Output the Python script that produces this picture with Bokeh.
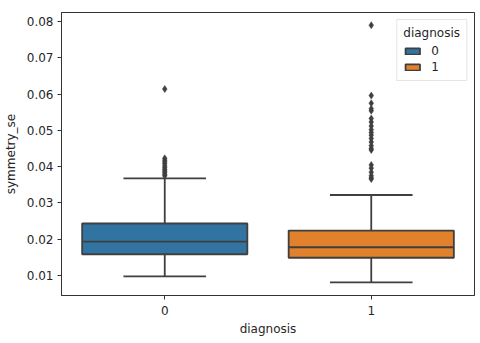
from bokeh.plotting import figure
from bokeh.models import ColumnDataSource, Range1d, FixedTicker, PrintfTickFormatter
from bokeh.embed import file_html
from bokeh.resources import INLINE

categories = ["0", "1"]
q1 = [0.01587, 0.01490]
median = [0.01935, 0.01780]
q3 = [0.02435, 0.02240]
whisker_lo = [0.00975, 0.00810]
whisker_hi = [0.03680, 0.03220]
colors = ["#3274a1", "#e1812c"]

outliers_0 = [0.0375, 0.0379, 0.0384, 0.0388, 0.0392, 0.0397, 0.0402, 0.0408,
              0.0413, 0.0418, 0.0423, 0.0614]
outliers_1 = [0.0366, 0.0369, 0.0375, 0.0385, 0.0396, 0.0405, 0.0446, 0.0450,
              0.0458, 0.0468, 0.0478, 0.0487, 0.0494, 0.0502, 0.0512, 0.0523,
              0.0533, 0.0554, 0.0560, 0.0575, 0.0596, 0.0790]

y_ticks = [0.01, 0.02, 0.03, 0.04, 0.05, 0.06, 0.07, 0.08]

FONT = "DejaVu Sans"
LINE = "#3f3f3f"
BOX_W = 0.8
CAP_W = 0.4

xpos = list(range(len(categories)))

p = figure(width=480, height=343, output_backend="svg", toolbar_location=None,
           x_range=Range1d(-0.5, len(categories) - 0.5),
           y_range=Range1d(0.0045, 0.0825))
p.min_border_left = 61
p.min_border_top = 12
p.min_border_right = 6
p.min_border_bottom = 48
p.background_fill_color = "white"
p.border_fill_color = "white"
p.outline_line_color = "#333333"
p.outline_line_width = 1
p.grid.visible = False

src = ColumnDataSource(dict(x=xpos, q1=q1, med=median, q3=q3, lo=whisker_lo, hi=whisker_hi,
                            color=colors, label=categories,
                            cl=[v - CAP_W / 2 for v in xpos], cr=[v + CAP_W / 2 for v in xpos],
                            bl=[v - BOX_W / 2 for v in xpos], br=[v + BOX_W / 2 for v in xpos]))

# whiskers
p.segment(x0="x", y0="q3", x1="x", y1="hi", source=src, line_color=LINE, line_width=1.8)
p.segment(x0="x", y0="lo", x1="x", y1="q1", source=src, line_color=LINE, line_width=1.8)
p.segment(x0="cl", y0="hi", x1="cr", y1="hi", source=src, line_color=LINE, line_width=1.8)
p.segment(x0="cl", y0="lo", x1="cr", y1="lo", source=src, line_color=LINE, line_width=1.8)
# boxes
p.vbar(x="x", bottom="q1", top="q3", width=BOX_W, source=src, fill_color="color",
       line_color=LINE, line_width=1.8, legend_field="label")
p.segment(x0="bl", y0="med", x1="br", y1="med", source=src, line_color=LINE, line_width=1.8)

# outliers
ox = [xpos[0]] * len(outliers_0) + [xpos[1]] * len(outliers_1)
oy = outliers_0 + outliers_1
p.scatter(x=ox, y=oy, marker="diamond", size=7, fill_color=LINE, line_color=LINE, line_width=0.5)

# axes
p.xaxis.ticker = FixedTicker(ticks=xpos)
p.xaxis.major_label_overrides = {i: c for i, c in zip(xpos, categories)}
p.yaxis.ticker = FixedTicker(ticks=y_ticks)
p.yaxis.formatter = PrintfTickFormatter(format="%.2f")
p.xaxis.axis_label = "diagnosis"
p.yaxis.axis_label = "symmetry_se"
for ax in (p.xaxis[0], p.yaxis[0]):
    ax.minor_tick_line_color = None
    ax.major_tick_out = 4
    ax.major_tick_in = 0
    ax.major_tick_line_color = "#333333"
    ax.axis_line_color = "#333333"
    ax.major_label_text_font = FONT
    ax.major_label_text_font_size = "12px"
    ax.major_label_text_color = "#262626"
    ax.axis_label_text_font = FONT
    ax.axis_label_text_font_size = "12px"
    ax.axis_label_text_font_style = "normal"
    ax.axis_label_text_color = "#262626"
p.yaxis.major_label_standoff = 4
p.yaxis.axis_label_standoff = 6
p.xaxis.major_label_standoff = 6
p.xaxis.axis_label_standoff = 4

# legend
lg = p.legend[0]
lg.title = "diagnosis"
lg.title_text_font = FONT
lg.title_text_font_size = "12px"
lg.title_text_font_style = "normal"
lg.title_text_color = "#262626"
lg.title_standoff = 4
lg.label_text_font = FONT
lg.label_text_font_size = "12px"
lg.label_text_color = "#262626"
lg.location = "top_right"
lg.margin = 7
lg.padding = 6
lg.spacing = 2
lg.glyph_width = 18
lg.glyph_height = 8
lg.label_height = 13
lg.label_standoff = 10
lg.border_line_color = "#cccccc"
lg.background_fill_alpha = 0.8

open("out.html", "w").write(file_html(p, INLINE))
